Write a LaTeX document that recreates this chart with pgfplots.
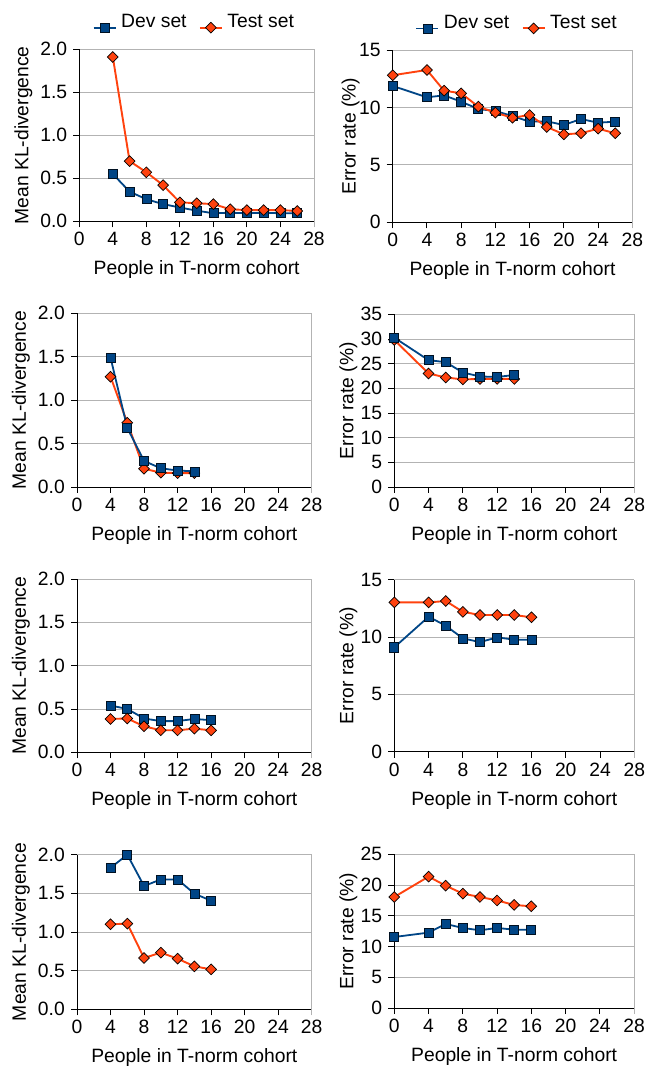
\documentclass[border=0pt]{standalone}
\usepackage{fontspec}
\setmainfont{Liberation Sans}
\usepackage{pgfplots}
\pgfplotsset{compat=1.18}
\definecolor{devblue}{HTML}{004586}
\definecolor{testorange}{HTML}{FF420E}
\definecolor{gridgray}{HTML}{B3B3B3}
\pgfplotsset{
  panel/.style={
    scale only axis,
    xmin=0, xmax=28,
    xtick={0,4,...,24},
    extra x ticks={28},
    extra x tick labels={28},
    extra x tick style={grid=major, tick style={gridgray}},
    axis lines*=left,
    ymajorgrids,
    major grid style={gridgray, line width=0.9bp},
    axis line style={black, line width=0.9bp},
    tick align=outside,
    major tick length=6bp,
    tick style={black, line width=0.9bp},
    /pgf/number format/assume math mode=true,
    xlabel={People in T-norm cohort},
    x label style={at={([yshift=-53.5bp]axis description cs:0.5,0)}, anchor=base},
    xticklabel style={anchor=north, inner sep=0pt},
    yticklabel style={anchor=east, inner sep=0pt},
    xticklabel shift=5bp,
    yticklabel shift=6bp,
    legend image code/.code={\draw[mark repeat=2,mark phase=2,##1] plot coordinates {(0bp,0bp)(11bp,0bp)(22bp,0bp)};},
    legend style={draw=none, fill=none, inner sep=0pt, legend columns=2,
      nodes={inner sep=0pt, anchor=base west},
      /tikz/every odd column/.append style={column sep=4.6bp},
      /tikz/every even column/.append style={column sep=12.3bp}},
  },
  kl/.style={panel, ymin=0, ymax=2, ytick={0,0.5,...,2},
    yticklabel style={/pgf/number format/.cd, fixed, fixed zerofill, precision=1, /tikz/.cd},
    ylabel={Mean KL-divergence},
    y label style={at={([xshift=-51bp]axis description cs:0,0.5)}, anchor=base}},
  err/.style={panel, ymin=0, ylabel={Error rate (\%)},
    y label style={at={([xshift=-#1]axis description cs:0,0.5)}, anchor=base}},
  dev/.style={devblue, line width=1.8bp, mark=square*, mark size=4.5bp,
    mark options={fill=devblue, draw=black!75!devblue, line width=0.7bp}},
  test/.style={testorange, line width=1.9bp, mark=square*, mark size=3.8bp,
    mark options={rotate=45, fill=testorange, draw=black, line width=0.7bp}},
}
\begin{document}
\fontsize{19.3bp}{23bp}\selectfont
\begin{tikzpicture}
\useasboundingbox (0,0) rectangle (657bp,1068bp);
% Row 1 left
\begin{axis}[kl, width=234.7bp, height=172bp, at={(79.3bp,846.7bp)}, anchor=south west,
  legend style={at={(0.486,1)}, anchor=south, yshift=16bp}]
\addplot[dev] coordinates {(4,0.55)(6,0.345)(8,0.256)(10,0.20)(12,0.16)(14,0.124)(16,0.093)(18,0.10)(20,0.093)(22,0.10)(24,0.093)(26,0.093)};
\addplot[test] coordinates {(4,1.91)(6,0.70)(8,0.57)(10,0.42)(12,0.22)(14,0.21)(16,0.20)(18,0.14)(20,0.13)(22,0.13)(24,0.13)(26,0.12)};
\legend{Dev set, Test set}
\end{axis}
% Row 1 right
\begin{axis}[err=37bp, ymax=15, ytick={0,5,10,15}, width=239.6bp, height=172.3bp, at={(392.7bp,845.7bp)}, anchor=south west,
  legend style={at={(0.515,1)}, anchor=south, yshift=16bp}]
\addplot[dev] coordinates {(0,11.87)(4,10.88)(6,11.05)(8,10.5)(10,9.86)(12,9.69)(14,9.25)(16,8.76)(18,8.79)(20,8.47)(22,8.99)(24,8.67)(26,8.76)};
\addplot[test] coordinates {(0,12.8)(4,13.26)(6,11.46)(8,11.23)(10,10.07)(12,9.54)(14,9.1)(16,9.34)(18,8.3)(20,7.66)(22,7.75)(24,8.15)(26,7.75)};
\legend{Dev set, Test set}
\end{axis}
% Row 2 left
\begin{axis}[kl, width=234.7bp, height=173.7bp, at={(77bp,581bp)}, anchor=south west]
\addplot[test] coordinates {(4,1.27)(6,0.74)(8,0.21)(10,0.165)(12,0.16)(14,0.16)};
\addplot[dev] coordinates {(4,1.49)(6,0.68)(8,0.30)(10,0.215)(12,0.19)(14,0.18)};
\end{axis}
% Row 2 right
\begin{axis}[err=41bp, ymax=35, ytick={0,5,...,35}, width=240bp, height=172.7bp, at={(394.3bp,581bp)}, anchor=south west]
\addplot[test] coordinates {(0,29.8)(4,23.0)(6,22.2)(8,21.8)(10,21.9)(12,21.9)(14,21.9)};
\addplot[dev] coordinates {(0,30.27)(4,25.7)(6,25.3)(8,23.2)(10,22.4)(12,22.3)(14,22.7)};
\end{axis}
% Row 3 left
\begin{axis}[kl, width=234.7bp, height=173.3bp, at={(77bp,315.7bp)}, anchor=south west]
\addplot[dev] coordinates {(4,0.54)(6,0.50)(8,0.39)(10,0.36)(12,0.36)(14,0.385)(16,0.37)};
\addplot[test] coordinates {(4,0.385)(6,0.39)(8,0.30)(10,0.254)(12,0.254)(14,0.273)(16,0.254)};
\end{axis}
% Row 3 right
\begin{axis}[err=41bp, ymax=15, ytick={0,5,10,15}, width=240bp, height=172bp, at={(394.3bp,316.3bp)}, anchor=south west]
\addplot[dev] coordinates {(0,9.1)(4,11.77)(6,10.99)(8,9.88)(10,9.56)(12,9.97)(14,9.77)(16,9.77)};
\addplot[test] coordinates {(0,13.02)(4,13.02)(6,13.14)(8,12.2)(10,11.92)(12,11.92)(14,11.92)(16,11.72)};
\end{axis}
% Row 4 left
\begin{axis}[kl, width=234.7bp, height=154.6bp, at={(77bp,58.7bp)}, anchor=south west]
\addplot[dev] coordinates {(4,1.83)(6,2.0)(8,1.595)(10,1.68)(12,1.68)(14,1.496)(16,1.405)};
\addplot[test] coordinates {(4,1.10)(6,1.108)(8,0.664)(10,0.733)(12,0.655)(14,0.556)(16,0.517)};
\end{axis}
% Row 4 right
\begin{axis}[err=41bp, ymax=25, ytick={0,5,...,25}, width=239.7bp, height=153.7bp, at={(394.3bp,60bp)}, anchor=south west]
\addplot[dev] coordinates {(0,11.55)(4,12.26)(6,13.67)(8,13.02)(10,12.64)(12,13.02)(14,12.74)(16,12.74)};
\addplot[test] coordinates {(0,18.06)(4,21.37)(6,19.9)(8,18.6)(10,18.06)(12,17.5)(14,16.76)(16,16.54)};
\end{axis}
\end{tikzpicture}
\end{document}
